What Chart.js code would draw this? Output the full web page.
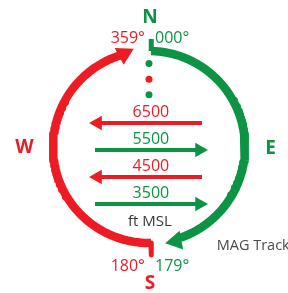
<!DOCTYPE html>
<html>
<head>
<meta charset="utf-8">
<script src="https://cdn.jsdelivr.net/npm/chart.js@4.4.1/dist/chart.umd.min.js"></script>
<style>
  html, body { margin: 0; padding: 0; background: #fff; }
  #wrap { width: 288px; height: 293px; }
</style>
</head>
<body>
<div id="wrap"><canvas id="chart"></canvas></div>
<script>
// cruising altitudes shown as arrows (ft MSL), top to bottom
const altitudes = [6500, 5500, 4500, 3500];
const altitudeDirections = ['west', 'east', 'west', 'east'];

// dots above the arrows: the sequence keeps going
const continuationAlts = [7550, 8125, 8700];
const continuationDirections = ['east', 'west', 'east'];

// magnetic track ranges (degrees)
const eastTrack = [0, 179];
const westTrack = [180, 359];
const eastTrackLabels = ['000°', '179°'];
const westTrackLabels = ['359°', '180°'];

const cardinalLetters = ['N', 'E', 'S', 'W'];

const RED = '#ed1c24';
const GREEN = '#0c9444';
const colorFor = d => (d === 'east' ? GREEN : RED);

// compass units: circle radius = 1, centred at 0,0
const rad = h => h * Math.PI / 180;
const onCircle = (h, r) => ({ x: r * Math.sin(rad(h)), y: r * Math.cos(rad(h)) });

function arcPoints(from, to, r) {
    const pts = [];
    for (let h = from; h < to; h += 1) pts.push(onCircle(h, r));
    pts.push(onCircle(to, r));
    return pts;
}

// arcs stop a bit before the arrowhead, ticks sit at the range start
const eastArcEnd = eastTrack[1] - 18;
const westArcEnd = westTrack[1] - 17;
const eastStart = eastTrack[0] + 1.2;
const westStart = westTrack[0] - 1.2;

const datasets = [];

// track arcs
datasets.push({ data: arcPoints(eastStart, eastArcEnd, 1), borderColor: GREEN, borderWidth: 8.5 });
datasets.push({ data: arcPoints(westStart, westArcEnd, 1), borderColor: RED, borderWidth: 8.5 });

// start ticks
datasets.push({ data: [onCircle(eastStart, 1), onCircle(eastStart, 1.125)], borderColor: GREEN, borderWidth: 5 });
datasets.push({ data: [onCircle(westStart, 1), onCircle(westStart, 1.125)], borderColor: RED, borderWidth: 5 });

// arc arrowheads
datasets.push({
    data: [onCircle(eastTrack[1] - 15, 1.02)], showLine: false,
    pointStyle: 'triangle', pointRadius: 11, pointRotation: 259,
    pointBackgroundColor: GREEN, pointBorderColor: GREEN
});
datasets.push({
    data: [onCircle(westTrack[1] - 14, 1.005)], showLine: false,
    pointStyle: 'triangle', pointRadius: 11, pointRotation: 62,
    pointBackgroundColor: RED, pointBorderColor: RED
});

// altitude arrows (x in compass units, y in feet)
altitudes.forEach((alt, i) => {
    const east = altitudeDirections[i] === 'east';
    const c = colorFor(altitudeDirections[i]);
    const tail = east ? -0.5625 : 0.552;
    const head = east ? 0.526 : -0.536;
    datasets.push({ yAxisID: 'alt', data: [{ x: tail, y: alt }, { x: head, y: alt }], borderColor: c, borderWidth: 4 });
    datasets.push({
        yAxisID: 'alt', data: [{ x: head, y: alt }], showLine: false,
        pointStyle: 'triangle', pointRadius: 8.5, pointRotation: east ? 90 : 270,
        pointBackgroundColor: c, pointBorderColor: c
    });
});

// continuation dots
datasets.push({
    yAxisID: 'alt', showLine: false,
    data: continuationAlts.map(a => ({ x: 0, y: a })),
    pointRadius: 3.5,
    pointBackgroundColor: continuationDirections.map(colorFor),
    pointBorderColor: continuationDirections.map(colorFor)
});

const textPlugin = {
    id: 'compassText',
    afterDatasetsDraw(chart) {
        const { ctx, scales } = chart;
        const px = u => scales.x.getPixelForValue(u);
        const py = v => scales.y.getPixelForValue(v);
        const pa = a => scales.alt.getPixelForValue(a);

        ctx.save();
        ctx.textBaseline = 'alphabetic';

        // altitude numbers
        ctx.font = '16px "Open Sans"';
        ctx.textAlign = 'center';
        altitudes.forEach((alt, i) => {
            ctx.fillStyle = colorFor(altitudeDirections[i]);
            ctx.fillText(String(alt), px(0.02), pa(alt) - 6.5);
        });

        ctx.fillStyle = '#3a3a3a';
        ctx.font = '15px "Open Sans"';
        ctx.fillText('ft MSL', px(0.01), py(-0.823));

        ctx.textAlign = 'left';
        ctx.fillStyle = '#4a4a4a';
        ctx.font = '14.5px "Open Sans"';
        ctx.fillText('MAG Track', px(0.705), py(-1.068));

        // track limits
        ctx.font = '16px "Open Sans"';
        ctx.fillStyle = GREEN;
        ctx.textAlign = 'left';
        ctx.fillText(eastTrackLabels[0], px(0.0625), py(1.083));
        ctx.fillText(eastTrackLabels[1], px(0.0625), py(-1.292));
        ctx.fillStyle = RED;
        ctx.textAlign = 'right';
        ctx.fillText(westTrackLabels[0], px(-0.042), py(1.083));
        ctx.fillText(westTrackLabels[1], px(-0.042), py(-1.292));

        // cardinal letters
        const letterPos = { N: [0.01, 1.292], E: [1.266, -0.073], S: [0.01, -1.479], W: [-1.297, -0.0625] };
        const letterColor = { N: GREEN, E: GREEN, S: RED, W: RED };
        ctx.font = 'bold 19px "Open Sans"';
        ctx.textAlign = 'center';
        cardinalLetters.forEach(l => {
            ctx.fillStyle = letterColor[l];
            ctx.fillText(l, px(letterPos[l][0]), py(letterPos[l][1]));
        });
        ctx.restore();
    }
};

new Chart(document.getElementById('chart'), {
    type: 'scatter',
    data: { datasets: datasets.map(d => Object.assign({
        showLine: true, pointRadius: 0, pointBorderWidth: 0, tension: 0,
        borderCapStyle: 'butt', borderJoinStyle: 'round', yAxisID: 'y'
    }, d)) },
    options: {
        responsive: true,
        maintainAspectRatio: false,
        animation: false,
        events: [],
        layout: { padding: 0, autoPadding: false },
        plugins: { legend: { display: false }, tooltip: { enabled: false } },
        scales: {
            x: { type: 'linear', display: false, min: -149 / 96, max: 139 / 96 },
            y: { type: 'linear', display: false, min: -146 / 96, max: 147 / 96 },
            alt: { type: 'linear', display: false, position: 'right', min: 203.7, max: 11055.6 }
        }
    },
    plugins: [textPlugin]
});
</script>
</body>
</html>
